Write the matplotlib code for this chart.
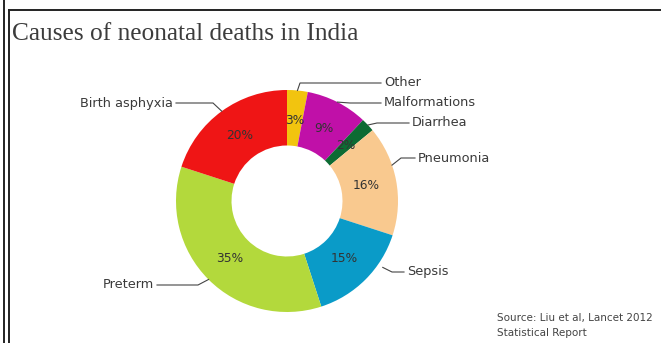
import numpy as np
import matplotlib
matplotlib.use("Agg")
import matplotlib.pyplot as plt
from matplotlib.lines import Line2D

# Causes of neonatal deaths, share of total (%), clockwise from the top
causes = ["Other", "Malformations", "Diarrhea", "Pneumonia", "Sepsis", "Preterm", "Birth asphyxia"]
shares = [3, 9, 2, 16, 15, 35, 20]
colors = ["#f2c40f", "#c010a8", "#0d6b33", "#f9c98f", "#0a9bc8", "#b3d93c", "#ef1515"]

W, H = 661, 343
fig = plt.figure(figsize=(W / 100, H / 100), dpi=100)
fig.patch.set_facecolor("white")
ax = fig.add_axes([0, 0, 1, 1])

cx, cy, R = 287, H - 201, 111

wedges, _, pcts = ax.pie(
    shares, colors=colors, startangle=90, counterclock=False,
    center=(cx, cy), radius=R, autopct="%d%%", pctdistance=0.73,
    wedgeprops=dict(width=R * 0.5, linewidth=0),
    textprops=dict(fontsize=8.8, color="#333333", family="DejaVu Sans"),
)
ax.set_xlim(0, W)
ax.set_ylim(0, H)
ax.set_aspect("equal")
ax.axis("off")

# label placement: (text x, text y from top, alignment, elbow x,
#                   anchor position across the wedge, anchor radius factor)
layout = {
    "Other":          (384, 83,  "left",  300, 0.5, 1.0),
    "Malformations":  (384, 103, "left",  350, 0.5, 1.0),
    "Diarrhea":       (412, 123, "left",  377, 0.5, 1.0),
    "Pneumonia":      (418, 158, "left",  401, 0.64, 1.0),
    "Sepsis":         (407, 272, "left",  392, 0.69, 1.05),
    "Preterm":        (154, 285, "right", 198, 0.5, 1.0),
    "Birth asphyxia": (173, 103, "right", 213, 0.5, 1.0),
}

for w, name in zip(wedges, causes):
    tx, ty, ha, ex, frac, rf = layout[name]
    ang = np.deg2rad(w.theta1 + frac * (w.theta2 - w.theta1))
    ax_pt = cx + R * rf * np.cos(ang)
    ay_pt = cy + R * rf * np.sin(ang)
    ty = H - ty
    end = tx - 3 if ha == "left" else tx + 3
    ax.plot([ax_pt, ex, end], [ay_pt, ty, ty], color="#444444", lw=0.8,
            solid_joinstyle="miter")
    ax.text(tx, ty, name, ha=ha, va="center", fontsize=9.3,
            color="#3a3a3a", family="DejaVu Sans")

# title and source note
fig.text(12 / W, 1 - 34 / H, "Causes of neonatal deaths in India",
         ha="left", va="center", fontsize=18.3, color="#3c3c3c",
         family="Liberation Serif")
fig.text(497 / W, 1 - 318 / H, "Source: Liu et al, Lancet 2012",
         ha="left", va="center", fontsize=7.5, color="#444444", family="DejaVu Sans")
fig.text(497 / W, 1 - 333 / H, "Statistical Report",
         ha="left", va="center", fontsize=7.5, color="#444444", family="DejaVu Sans")

# page frame lines
fig.add_artist(Line2D([3.5 / W, 3.5 / W], [0, 1], color="#222222", lw=1.4,
                      transform=fig.transFigure))
fig.add_artist(Line2D([8.5 / W, 8.5 / W], [0, 1 - 9.5 / H], color="#222222", lw=1.4,
                      transform=fig.transFigure))
fig.add_artist(Line2D([8.5 / W, 1], [1 - 9.5 / H, 1 - 9.5 / H], color="#222222", lw=1.4,
                      transform=fig.transFigure))

fig.savefig("out.png", dpi=100, facecolor="white")
